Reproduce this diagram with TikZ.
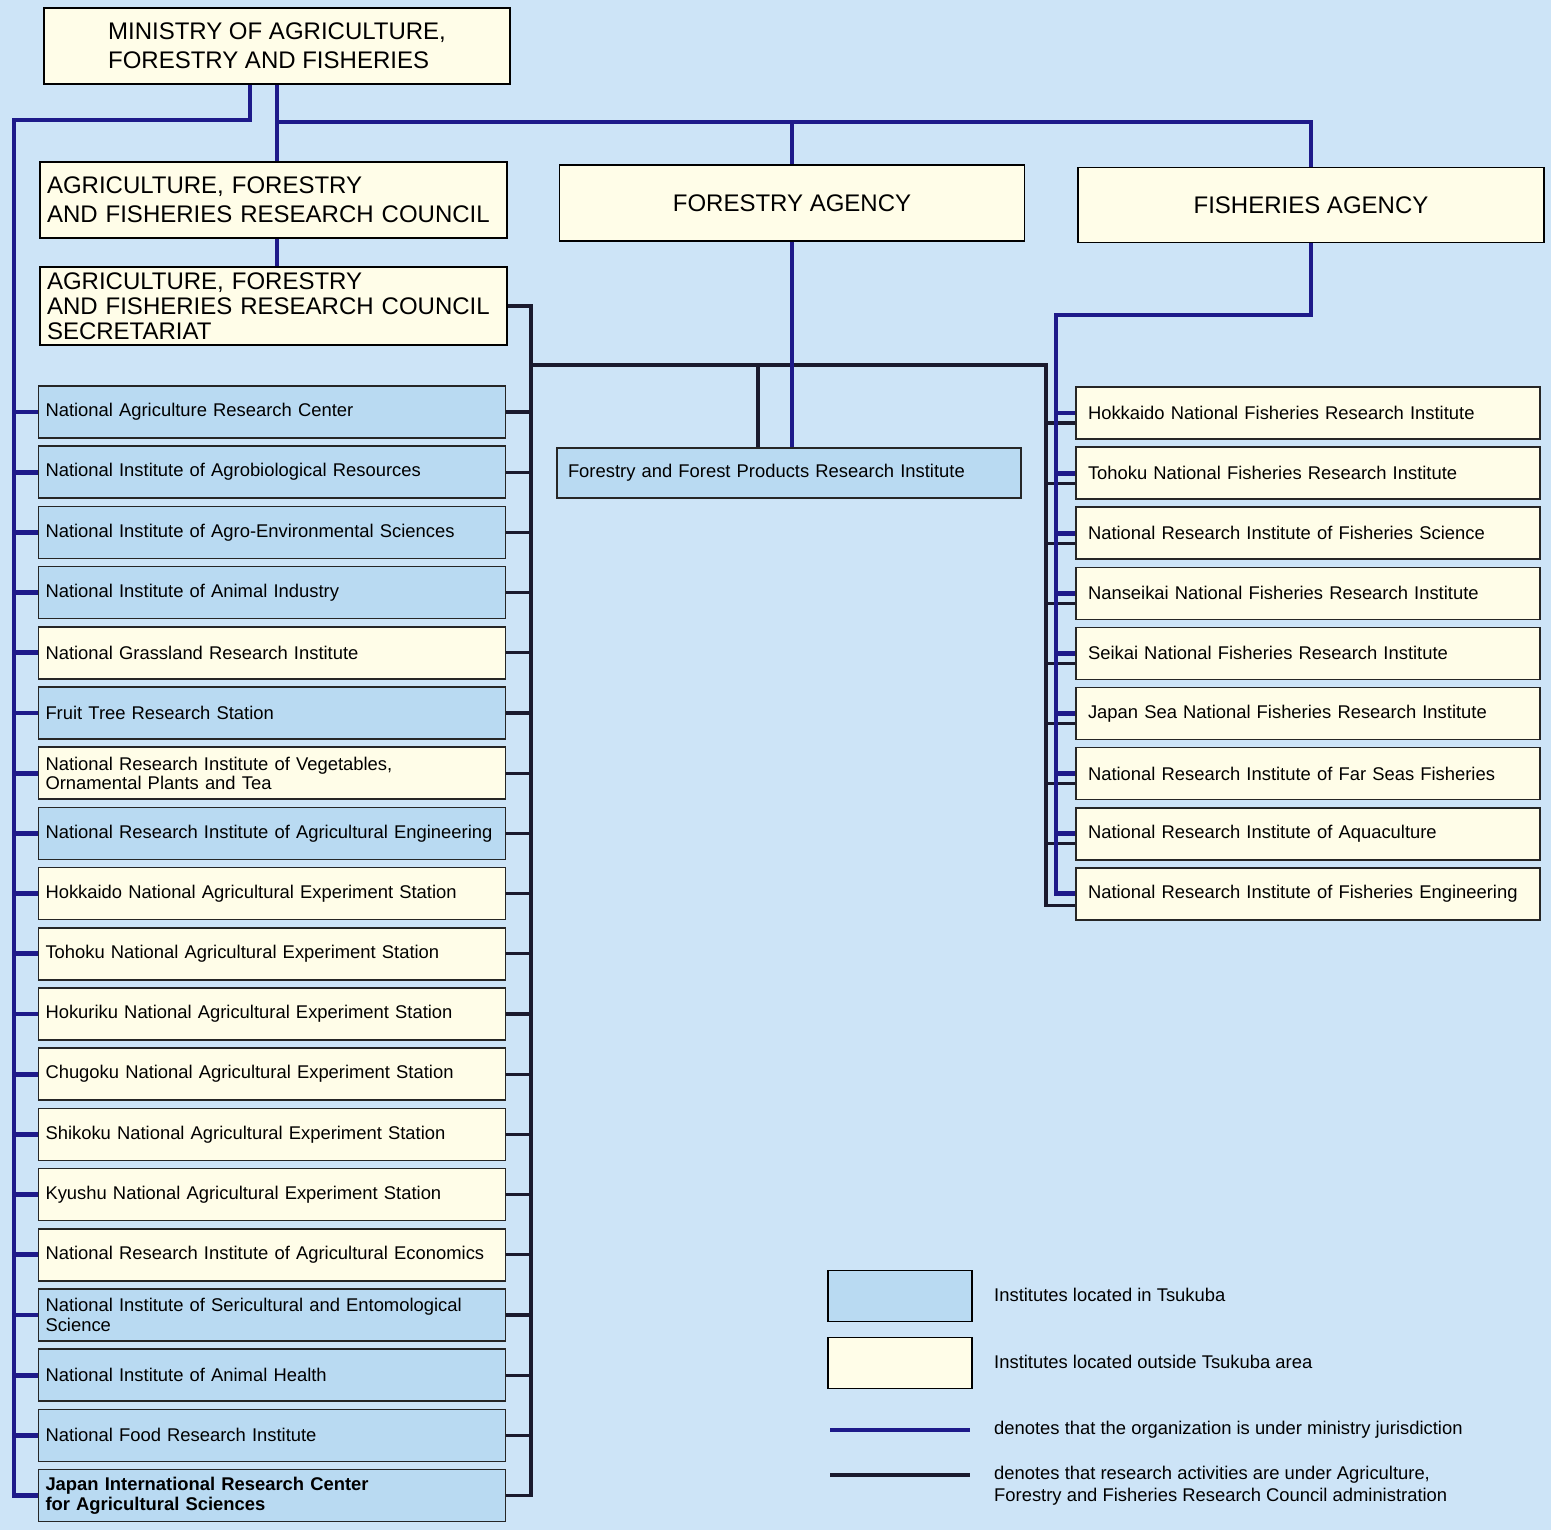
\documentclass[tikz,border=0pt]{standalone}
\usepackage{fontspec}
\setmainfont{Liberation Sans}
\definecolor{paleblue}{HTML}{CDE4F7}
\definecolor{tsublue}{HTML}{B9DAF2}
\definecolor{cream}{HTML}{FFFDE8}
\definecolor{minnavy}{HTML}{1E1A8A}
\definecolor{coublack}{HTML}{1A1A2E}
\usetikzlibrary{positioning}
\hyphenpenalty=10000
\exhyphenpenalty=10000

\tikzset{
  headbox/.style={draw=black, line width=1.8pt, fill=cream, inner ysep=2pt,
    font=\fontsize{24}{29}\selectfont},
  instbox/.style={draw=black!85, line width=1.6pt, minimum height=52,
    inner ysep=2pt, font=\fontsize{18.4}{19.5}\selectfont, align=left},
  legtext/.style={anchor=west, inner sep=0pt, align=left,
    font=\fontsize{18.4}{22}\selectfont},
  mline/.style={draw=minnavy, line width=4.8pt},
  cline/.style={draw=coublack, line width=3.2pt},
}

\begin{document}
\begin{tikzpicture}[x=1pt,y=-1pt]
  \useasboundingbox (0,0) rectangle (1551,1530);
  \fill[paleblue] (0,0) rectangle (1551,1530);

  % ministry, council and agencies
  \node[headbox, minimum width=466, minimum height=76, align=left] (min) at (277,46)
    {MINISTRY OF AGRICULTURE,\\FORESTRY AND FISHERIES};
  \node[headbox, minimum width=467, minimum height=76, inner xsep=7pt,
    text width=453, align=left] (coun) at (273.5,200)
    {AGRICULTURE, FORESTRY\\AND FISHERIES RESEARCH COUNCIL};
  \node[headbox, minimum width=467, minimum height=78, inner xsep=7pt,
    text width=453, align=left, font=\fontsize{24}{25}\selectfont] (sec) at (273.5,306)
    {AGRICULTURE, FORESTRY\\AND FISHERIES RESEARCH COUNCIL\\SECRETARIAT};
  \node[headbox, minimum width=465, minimum height=76] (fa) at (792,203) {FORESTRY AGENCY};
  \node[headbox, minimum width=466, minimum height=75] (fish) at (1311,205) {FISHERIES AGENCY};

  % research institutes
  \foreach \i/\col/\txt in {
    1/tsublue/National Agriculture Research Center,
    2/tsublue/National Institute of Agrobiological Resources,
    3/tsublue/National Institute of Agro-Environmental Sciences,
    4/tsublue/National Institute of Animal Industry,
    5/cream/National Grassland Research Institute,
    6/tsublue/Fruit Tree Research Station,
    7/cream/{National Research Institute of Vegetables,\\Ornamental Plants and Tea},
    8/tsublue/National Research Institute of Agricultural Engineering,
    9/cream/Hokkaido National Agricultural Experiment Station,
    10/cream/Tohoku National Agricultural Experiment Station,
    11/cream/Hokuriku National Agricultural Experiment Station,
    12/cream/Chugoku National Agricultural Experiment Station,
    13/cream/Shikoku National Agricultural Experiment Station,
    14/cream/Kyushu National Agricultural Experiment Station,
    15/cream/National Research Institute of Agricultural Economics,
    16/tsublue/{National Institute of Sericultural and Entomological\\Science},
    17/tsublue/National Institute of Animal Health,
    18/tsublue/National Food Research Institute,
    19/tsublue/{\bfseries Japan International Research Center\\\bfseries for Agricultural Sciences}}
    \node[instbox, fill=\col, minimum width=467, inner xsep=7pt, text width=453]
      (ag\i) at ({272},{351.8+60.2*\i}) {\txt};

  \node[instbox, fill=tsublue, minimum width=464, minimum height=50, inner xsep=11pt,
    text width=442] (ffpri) at (789,473) {Forestry and Forest Products Research Institute};

  \foreach \j/\txt in {
    1/Hokkaido National Fisheries Research Institute,
    2/Tohoku National Fisheries Research Institute,
    3/National Research Institute of Fisheries Science,
    4/Nanseikai National Fisheries Research Institute,
    5/Seikai National Fisheries Research Institute,
    6/Japan Sea National Fisheries Research Institute,
    7/National Research Institute of Far Seas Fisheries,
    8/National Research Institute of Aquaculture,
    9/National Research Institute of Fisheries Engineering}
    \node[instbox, fill=cream, minimum width=464, inner xsep=12pt, text width=440]
      (fi\j) at ({1308},{352.9+60.1*\j}) {\txt};

  % council administration lines
  \coordinate (crail) at (531,365);
  \coordinate (frail) at (1046,365);
  \coordinate (fbranch) at (758,365);
  \draw[cline] (sec.east) -| (crail |- ag19.east) -- (ag19.east);
  \draw[cline] (crail) -- (frail) |- ([yshift=-12pt]fi9.west);
  \draw[cline] (fbranch) -- (fbranch |- ffpri.north);
  \foreach \i in {1,...,18}
    \draw[cline] (ag\i.east) -- (ag\i.east -| crail);
  \foreach \j in {1,...,8}
    \draw[cline] ([yshift=-10pt]fi\j.west) -- ([yshift=-10pt]fi\j.west -| frail);

  % ministry jurisdiction lines
  \coordinate (topbar) at (277,122);
  \coordinate (lrail) at (14,120);
  \coordinate (nrail) at (1056,315);
  \draw[mline] (min.south) -- (min.south |- coun.north);
  \draw[mline] (coun.south -| min.south) -- (sec.north -| min.south);
  \draw[mline] (topbar) -| (fa.north);
  \draw[mline] (topbar) -| (fish.north);
  \draw[mline] ([xshift=-27pt]min.south) |- (lrail) -- (lrail |- ag19.west) -- (ag19.west);
  \draw[mline] (fa.south) -- (fa.south |- ffpri.north);
  \draw[mline] (fish.south) |- (nrail) -- (nrail |- fi9.west) -- (fi9.west);
  \foreach \i in {1,...,18}
    \draw[mline] (ag\i.west) -- (ag\i.west -| lrail);
  \foreach \j in {1,...,8}
    \draw[mline] (fi\j.west) -- (fi\j.west -| nrail);

  % legend
  \node[draw=black, line width=1.8pt, fill=tsublue, minimum width=144, minimum height=51]
    (legin) at (900,1296) {};
  \node[draw=black, line width=1.8pt, fill=cream, minimum width=144, minimum height=51]
    (legout) at (900,1363) {};
  \node[legtext] (legintxt) at (994,1295) {Institutes located in Tsukuba};
  \node[legtext] (legouttxt) at (994,1362) {Institutes located outside Tsukuba area};
  \coordinate (legm1) at (830,1430);
  \coordinate (legm2) at (970,1430);
  \coordinate (legc1) at (830,1475);
  \coordinate (legc2) at (970,1475);
  \draw[mline, line width=3.5pt] (legm1) -- (legm2);
  \draw[cline, line width=3.5pt] (legc1) -- (legc2);
  \node[legtext] (legmtxt) at (994,1430)
    {denotes that the organization is under ministry jurisdiction};
  \node[legtext] (legctxt) at (994,1486)
    {denotes that research activities are under Agriculture,\\Forestry and Fisheries Research Council administration};
\end{tikzpicture}
\end{document}
